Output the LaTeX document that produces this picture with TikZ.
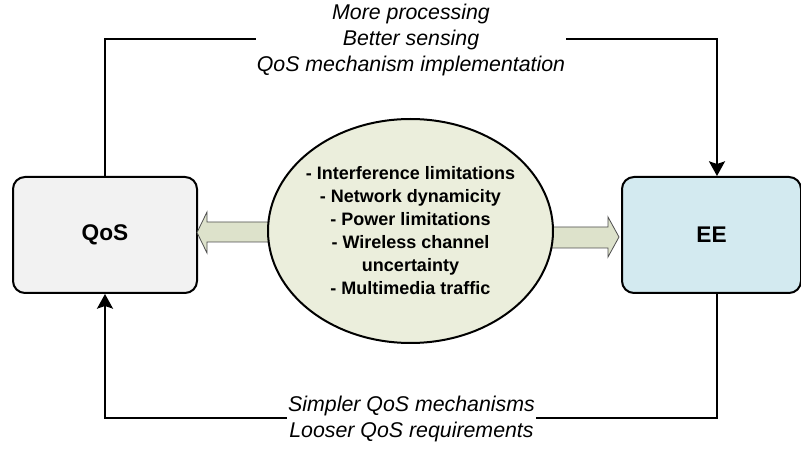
\documentclass[tikz,border=0pt]{standalone}
\usepackage{fontspec}
\setmainfont{Liberation Sans}
\usetikzlibrary{arrows.meta,shapes.geometric}

\definecolor{qosfill}{HTML}{F2F2F2}
\definecolor{eefill}{HTML}{D3EAF0}
\definecolor{ellfill}{HTML}{EBEEDC}
\definecolor{blockfill}{HTML}{DDE2CB}
\definecolor{blockline}{HTML}{4D4D4D}

\begin{document}
\begin{tikzpicture}[x=0.75pt,y=-0.75pt,
  box/.style={draw=black, line width=1.5pt, rounded corners=9pt,
    minimum height=87pt, inner sep=0pt,
    font=\fontsize{17}{20}\selectfont\bfseries},
  factors/.style={ellipse, draw=black, line width=1.5pt, fill=ellfill,
    minimum width=213.75pt, minimum height=168pt, inner sep=0pt},
  factortext/.style={inner sep=0pt, align=center,
    font=\fontsize{13.5}{17.25}\selectfont\bfseries},
  note/.style={fill=white, inner sep=1pt, align=center,
    font=\fontsize{16}{19.3}\selectfont\itshape},
  link/.style={line width=1.5pt, -{Stealth[length=11pt,width=12pt,inset=2pt]}},
  blockarrow/.style={draw=blockline, line width=0.6pt, fill=blockfill}
]
\useasboundingbox (0,0) rectangle (801,449);

% the two end points of the trade-off
\node[box, fill=qosfill, minimum width=138pt] (QoS) at (105,235) {QoS};
\node[box, fill=eefill, minimum width=134.25pt] (EE) at (711.5,235) {EE};

% corner points of the feedback loops
\coordinate (tr) at (717,39);
\coordinate (br) at (717,418);

% influence of the factors on both sides
\draw[blockarrow] (280,222) -- (207,222) -- (207,212) -- (197,232.5)
  -- (207,253) -- (207,242) -- (280,242) -- cycle;
\draw[blockarrow] (540,227) -- (608,227) -- (608,217) -- (619,237)
  -- (608,257) -- (608,248) -- (540,248) -- cycle;

\node[factors] (F) at (410.5,231) {};
\node[factortext] (Ftext) at (F.center) {- Interference limitations\\
  - Network dynamicity\\
  - Power limitations\\
  - Wireless channel\\
  uncertainty\\
  - Multimedia traffic};

% feedback loops
\draw[link] (QoS.north) |- (tr) -- (tr |- EE.north);
\draw[link] (br |- EE.south) -- (br) -| (QoS.south);

\node[note] (up) at (411,40) {More processing\\Better sensing\\QoS mechanism implementation};
\node[note] (down) at (411.5,419) {Simpler QoS mechanisms\\Looser QoS requirements};
\end{tikzpicture}
\end{document}
